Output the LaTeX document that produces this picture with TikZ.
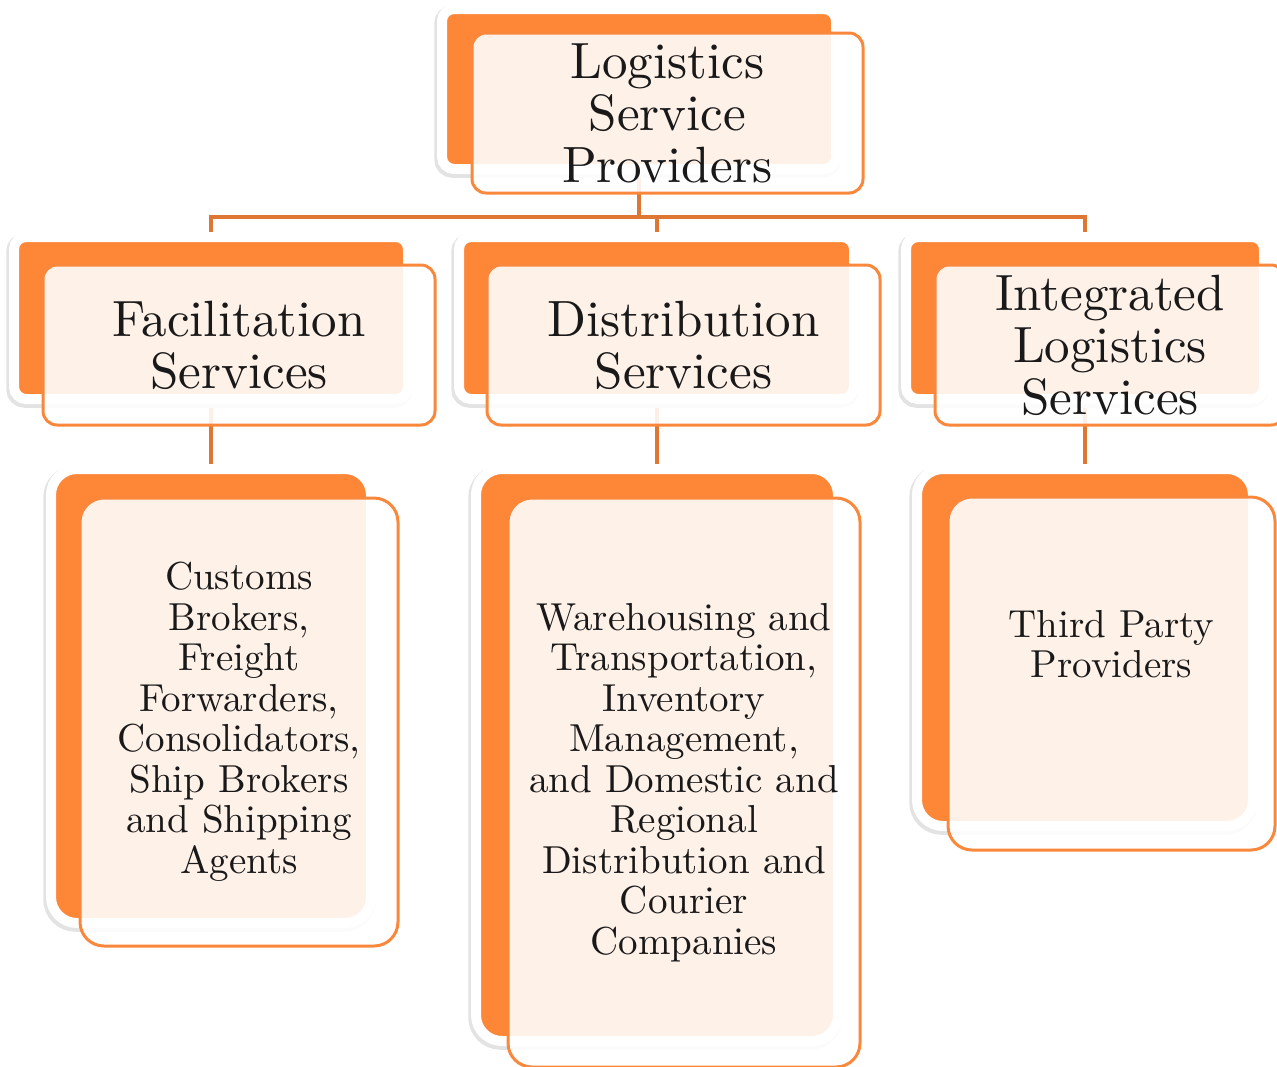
\documentclass[tikz,border=0pt]{standalone}
\usepackage{fontspec}
\setmainfont{lmroman10-regular.otf}
\usetikzlibrary{backgrounds}
\definecolor{bkorange}{RGB}{253,134,55}
\definecolor{frorange}{RGB}{250,136,60}
\definecolor{lnorange}{RGB}{222,118,52}
\definecolor{txt}{RGB}{25,25,25}
\tikzset{
  backbox/.style={rectangle, rounded corners=12pt, fill=bkorange, draw=white, line width=10pt, inner sep=0pt,
    preaction={draw=black!11, line width=12.5pt, transform canvas={xshift=-1.5pt, yshift=-2.5pt}}},
  leafback/.style={backbox, rounded corners=26pt},
  frontbox/.style={rectangle, rounded corners=14pt, fill=white, fill opacity=0.885, text opacity=1,
    draw=frorange, line width=3pt, inner sep=0pt, align=center, text=txt,
    font=\fontsize{51}{52}\selectfont},
  leaffront/.style={frontbox, rounded corners=24pt, font=\fontsize{39}{40.5}\selectfont},
  conn/.style={draw=lnorange, line width=4pt},
}
\begin{document}
\begin{tikzpicture}[x=1pt,y=-1pt]
\useasboundingbox (0,0) rectangle (1277,1066);
% back boxes
\node[backbox, minimum width=394, minimum height=160] (lspB) at (639,89) {};
\node[backbox, minimum width=394, minimum height=162] (facB) at (211,318) {};
\node[backbox, minimum width=395, minimum height=162] (disB) at (656.5,318) {};
\node[backbox, minimum width=358, minimum height=162] (intB) at (1085,318) {};
\node[leafback, minimum width=320, minimum height=454] (cusB) at (211,696) {};
\node[leafback, minimum width=362, minimum height=572] (dlB) at (657,755) {};
\node[leafback, minimum width=336, minimum height=357] (tpB) at (1085,647.5) {};
% connectors
\begin{pgfonlayer}{background}
\coordinate (bus) at (639,217);
\draw[conn] (lspB.south) -- (bus);
\draw[conn] (facB.north) |- (bus) -| (intB.north);
\draw[conn] (disB.north) -- (disB.north |- bus);
\draw[conn] (facB.south) -- (facB.south |- cusB.north);
\draw[conn] (disB.south) -- (disB.south |- dlB.north);
\draw[conn] (intB.south) -- (intB.south |- tpB.north);
\end{pgfonlayer}
% front boxes
\node[frontbox, minimum width=391, minimum height=160] (lspF) at (667.5,113) {Logistics\\Service\\Providers};
\node[frontbox, minimum width=392, minimum height=160] (facF) at (239,345) {Facilitation\\Services};
\node[frontbox, minimum width=393, minimum height=160] (disF) at (683.5,345) {Distribution\\Services};
\node[frontbox, minimum width=350, minimum height=160] (intF) at (1110,345) {Integrated\\Logistics\\Services};
\node[leaffront, minimum width=318, minimum height=448] (cusF) at (239,722) {Customs\\Brokers,\\Freight\\Forwarders,\\Consolidators,\\Ship Brokers\\and Shipping\\Agents};
\node[leaffront, minimum width=352, minimum height=569] (dlF) at (684,782.5) {Warehousing and\\Transportation,\\Inventory\\Management,\\and Domestic and\\Regional\\Distribution and\\Courier\\Companies};
\node[leaffront, minimum width=327, minimum height=353] (tpF) at (1111.5,673.5) {\raisebox{18pt}[0pt][0pt]{\begin{tabular}{@{}c@{}}Third Party\\[-0.9pt]Providers\end{tabular}}};
\end{tikzpicture}
\end{document}
